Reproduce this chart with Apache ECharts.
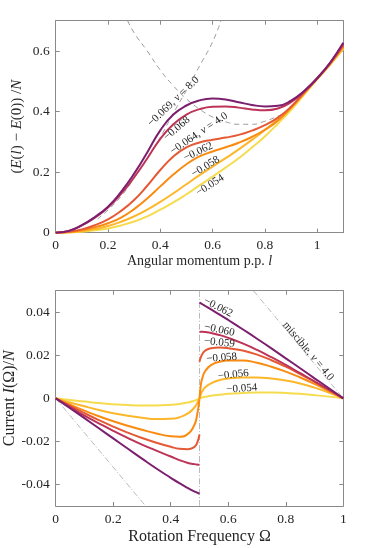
<!DOCTYPE html>
<html>
<head>
<meta charset="utf-8">
<script src="https://cdn.jsdelivr.net/npm/echarts@6.0.0/dist/echarts.min.js"></script>
<style>
html, body { margin: 0; padding: 0; background: #fff; }
#chart { width: 374px; height: 548px; }
</style>
</head>
<body>
<div id="chart"></div>
<script>
// ---- top panel: (E(l) - E(0))/N vs l ----
const lValues   = [0, 0.05, 0.1, 0.15, 0.2, 0.25, 0.3, 0.35, 0.4, 0.45, 0.5, 0.55, 0.6, 0.65, 0.7, 0.75, 0.8, 0.85, 0.9, 0.95, 1.0, 1.05, 1.1];
const energy069 = [0, 0.006, 0.025, 0.052, 0.086, 0.135, 0.195, 0.265, 0.338, 0.39, 0.42, 0.437, 0.443, 0.44, 0.431, 0.422, 0.417, 0.419, 0.436, 0.468, 0.51, 0.562, 0.627];
const energy068 = [0, 0.006, 0.024, 0.05, 0.083, 0.128, 0.183, 0.245, 0.31, 0.358, 0.39, 0.408, 0.416, 0.417, 0.413, 0.407, 0.404, 0.41, 0.431, 0.466, 0.51, 0.561, 0.624];
const energy064 = [0, 0.003, 0.011, 0.025, 0.044, 0.072, 0.108, 0.155, 0.207, 0.252, 0.282, 0.298, 0.307, 0.314, 0.323, 0.337, 0.355, 0.38, 0.416, 0.463, 0.509, 0.559, 0.619];
const energy062 = [0, 0.002, 0.008, 0.018, 0.031, 0.05, 0.078, 0.113, 0.153, 0.192, 0.226, 0.252, 0.268, 0.282, 0.297, 0.316, 0.34, 0.37, 0.412, 0.46, 0.509, 0.558, 0.615];
const energy058 = [0, 0.001, 0.005, 0.012, 0.022, 0.036, 0.054, 0.076, 0.102, 0.13, 0.16, 0.19, 0.218, 0.246, 0.275, 0.306, 0.339, 0.374, 0.413, 0.46, 0.508, 0.556, 0.61];
const energy054 = [0, 0.001, 0.003, 0.008, 0.014, 0.024, 0.037, 0.054, 0.076, 0.1, 0.127, 0.156, 0.185, 0.215, 0.246, 0.281, 0.318, 0.36, 0.405, 0.455, 0.506, 0.555, 0.606];
// dashed reference curves
const dashAL = [0.275, 0.3, 0.35, 0.4, 0.45, 0.5, 0.55, 0.6, 0.65, 0.7, 0.75, 0.8, 0.85, 0.87];
const dashAE = [0.70, 0.66, 0.60, 0.537, 0.485, 0.442, 0.408, 0.382, 0.366, 0.358, 0.358, 0.368, 0.385, 0.392];
const dashBL = [0.16, 0.2, 0.25, 0.3, 0.35, 0.4, 0.45, 0.5, 0.55, 0.6, 0.632];
const dashBE = [0.045, 0.075, 0.12, 0.18, 0.245, 0.315, 0.395, 0.47, 0.55, 0.63, 0.70];
const lTicks = [0, 0.2, 0.4, 0.6, 0.8, 1];
const eTicks = [0, 0.2, 0.4, 0.6];

// ---- bottom panel: I(Omega)/N vs Omega ----
const omegaLeft  = [0, 0.05, 0.1, 0.15, 0.2, 0.25, 0.3, 0.35, 0.4, 0.43, 0.46, 0.48, 0.49, 0.5];
const omegaRight = [0.5, 0.505, 0.51, 0.52, 0.54, 0.57, 0.6, 0.65, 0.7, 0.75, 0.8, 0.85, 0.9, 0.95, 1.0];
const cur062L = [0, -0.0046, -0.0092, -0.0139, -0.0186, -0.0233, -0.0280, -0.0326, -0.0369, -0.0394, -0.0417, -0.0431, -0.0437, -0.0443];
const cur060L = [0, -0.0040, -0.0080, -0.0116, -0.0151, -0.0184, -0.0215, -0.0243, -0.0270, -0.0287, -0.0300, -0.0305, -0.0307, -0.0308];
const cur059L = [0, -0.0035, -0.0069, -0.0101, -0.0131, -0.0159, -0.0184, -0.0206, -0.0225, -0.0234, -0.0236, -0.0228, -0.0213, -0.0168];
const cur058L = [0, -0.0029, -0.0057, -0.0083, -0.0106, -0.0127, -0.0146, -0.0163, -0.0176, -0.0178, -0.0165, -0.0130, -0.0090, 0];
const cur056L = [0, -0.0019, -0.0037, -0.0054, -0.0069, -0.0081, -0.0090, -0.0096, -0.0095, -0.0088, -0.0070, -0.0046, -0.0027, 0];
const cur054L = [0, -0.0008, -0.0015, -0.0022, -0.0027, -0.0031, -0.0033, -0.0033, -0.0030, -0.0026, -0.0019, -0.0012, -0.0007, 0];
const cur062R = [0.0445, 0.0441, 0.0437, 0.0429, 0.0413, 0.0389, 0.0364, 0.0321, 0.0277, 0.0232, 0.0186, 0.0140, 0.0093, 0.0047, 0];
const cur060R = [0.0308, 0.0309, 0.0309, 0.0308, 0.0304, 0.0294, 0.0281, 0.0255, 0.0225, 0.0191, 0.0155, 0.0117, 0.0079, 0.0040, 0];
const cur059R = [0.0170, 0.0192, 0.0206, 0.0222, 0.0233, 0.0236, 0.0233, 0.0222, 0.0203, 0.0177, 0.0147, 0.0113, 0.0077, 0.0039, 0];
const cur058R = [0, 0.0065, 0.0095, 0.0127, 0.0154, 0.0170, 0.0176, 0.0176, 0.0165, 0.0147, 0.0124, 0.0097, 0.0067, 0.0034, 0];
const cur056R = [0, 0.0020, 0.0034, 0.0052, 0.0070, 0.0085, 0.0092, 0.0097, 0.0097, 0.0092, 0.0083, 0.0069, 0.0050, 0.0027, 0];
const cur054R = [0, 0.0002, 0.0004, 0.0007, 0.0012, 0.0017, 0.0021, 0.0025, 0.0027, 0.0027, 0.0025, 0.0021, 0.0015, 0.0008, 0];
// dash-dot lines: miscible nu=4.0 and the Omega = 0.5 jump
const miscLeftO  = [0, 0.3125];
const miscLeftI  = [0, -0.05];
const miscRightO = [0.6875, 1];
const miscRightI = [0.05, 0];
const jumpO = [0.5, 0.5];
const jumpI = [-0.05, 0.05];
const omegaTicks = [0, 0.2, 0.4, 0.6, 0.8, 1];
const currentTicks = [-0.04, -0.02, 0, 0.02, 0.04];

// yellow -> purple
const palette = ['#f5dc4f', '#fcb72a', '#fa8b12', '#e55a36', '#bd3458', '#7b1f6e'];
const FONT = 'Liberation Serif';
const INK = '#262626';
const FRAME = '#8a8a8a';

const chart = echarts.init(document.getElementById('chart'), null, {renderer: 'canvas'});

function frameAxis(opts) {
  return Object.assign({
    type: 'value',
    axisLine: {show: true, onZero: false, lineStyle: {color: FRAME, width: 1}},
    axisTick: {show: true, inside: true, length: 4, lineStyle: {color: FRAME}},
    splitLine: {show: false},
    axisLabel: {show: false}
  }, opts);
}
function tickAxis(grid, pos, min, max, ticks, withLabels, name, nameGap, nameSize) {
  const ax = frameAxis({gridIndex: grid, position: pos, min: min, max: max});
  ax.axisTick.customValues = ticks;
  if (withLabels) {
    ax.axisLabel = {show: true, customValues: ticks, color: INK, fontFamily: FONT, fontSize: 13.5, margin: 6};
    ax.name = name;
    ax.nameLocation = 'middle';
    ax.nameGap = nameGap;
    ax.nameMoveOverlap = false;
    ax.nameTextStyle = {color: INK, fontFamily: FONT, fontSize: nameSize,
      rich: {i: {fontStyle: 'italic', fontFamily: FONT, fontSize: nameSize, color: INK}}};
  }
  return ax;
}
function line(xs, ys, xi, yi, color, width, dash) {
  return {
    type: 'line', xAxisIndex: xi, yAxisIndex: yi,
    data: xs.map((x, i) => [x, ys[i]]),
    symbol: 'none', smooth: true, silent: true, animation: false,
    lineStyle: {color: color, width: width, type: dash || 'solid'}
  };
}

const topSets = [energy054, energy058, energy062, energy064, energy068, energy069];
const leftSets = [cur054L, cur056L, cur058L, cur059L, cur060L, cur062L];
const rightSets = [cur054R, cur056R, cur058R, cur059R, cur060R, cur062R];

const series = [
  line(dashAL, dashAE, 0, 0, '#9a9a9a', 1, [5, 4]),
  line(dashBL, dashBE, 0, 0, '#9a9a9a', 1, [5, 4]),
  line(miscLeftO, miscLeftI, 2, 2, '#a8a8a8', 0.8, [6, 2, 1, 2]),
  line(miscRightO, miscRightI, 2, 2, '#a8a8a8', 0.8, [6, 2, 1, 2]),
  line(jumpO, jumpI, 2, 2, '#a8a8a8', 0.8, [6, 2, 1, 2])
];
topSets.forEach((ys, k) => series.push(line(lValues, ys, 0, 0, palette[k], 2)));
leftSets.forEach((ys, k) => series.push(line(omegaLeft, ys, 2, 2, palette[k], 2)));
rightSets.forEach((ys, k) => series.push(line(omegaRight, ys, 2, 2, palette[k], 2)));

chart.setOption({
  animation: false,
  backgroundColor: '#fff',
  grid: [
    {left: 55.7, top: 20.7, width: 287.6, height: 212, containLabel: false, outerBoundsMode: 'none'},
    {left: 55.7, top: 290.7, width: 287.6, height: 215.3, containLabel: false, outerBoundsMode: 'none'}
  ],
  xAxis: [
    tickAxis(0, 'bottom', 0, 1.1, lTicks, true, 'Angular momentum p.p. {i|l}', 22, 14),
    tickAxis(0, 'top', 0, 1.1, lTicks, false),
    tickAxis(1, 'bottom', 0, 1, omegaTicks, true, 'Rotation Frequency Ω', 23, 16),
    tickAxis(1, 'top', 0, 1, omegaTicks, false)
  ],
  yAxis: [
    tickAxis(0, 'left', 0, 0.7, eTicks, true, '({i|E}({i|l}) − {i|E}(0)) /{i|N}', 31, 15),
    tickAxis(0, 'right', 0, 0.7, eTicks, false),
    tickAxis(1, 'left', -0.05, 0.05, currentTicks, true, 'Current {i|I}(Ω)/{i|N}', 38, 16),
    tickAxis(1, 'right', -0.05, 0.05, currentTicks, false)
  ],
  series: series
});

// curve annotations, anchored in data coordinates
const topNotes = [
  {text: '−0.069, {i|ν} = 8.0', at: [0.45, 0.433], angle: 44},
  {text: '−0.068', at: [0.463, 0.344], angle: 40},
  {text: '−0.064, {i|ν} = 4.0', at: [0.548, 0.328], angle: 34},
  {text: '−0.062', at: [0.545, 0.267], angle: 25},
  {text: '−0.058', at: [0.573, 0.218], angle: 31},
  {text: '−0.054', at: [0.59, 0.157], angle: 33}
];
const bottomNotes = [
  {text: '−0.062', at: [0.565, 0.0423], angle: -27},
  {text: '−0.060', at: [0.569, 0.0318], angle: -12},
  {text: '−0.059', at: [0.569, 0.0259], angle: -6},
  {text: '−0.058', at: [0.577, 0.0188], angle: 5},
  {text: '−0.056', at: [0.6175, 0.011], angle: 6},
  {text: '−0.054', at: [0.647, 0.0045], angle: 4},
  {text: 'miscible, {i|ν} = 4.0', at: [0.878, 0.0219], angle: -50}
];
function noteGraphic(note, grid) {
  const p = chart.convertToPixel({gridIndex: grid}, note.at);
  return {
    type: 'text', x: p[0], y: p[1], rotation: note.angle * Math.PI / 180, silent: true, z: 100,
    style: {
      text: note.text, fill: INK, fontFamily: FONT, fontSize: 11,
      align: 'center', verticalAlign: 'middle',
      rich: {i: {fontStyle: 'italic', fontFamily: FONT, fontSize: 11, fill: INK}}
    }
  };
}
chart.setOption({
  graphic: topNotes.map(n => noteGraphic(n, 0)).concat(bottomNotes.map(n => noteGraphic(n, 1)))
});
</script>
</body>
</html>
